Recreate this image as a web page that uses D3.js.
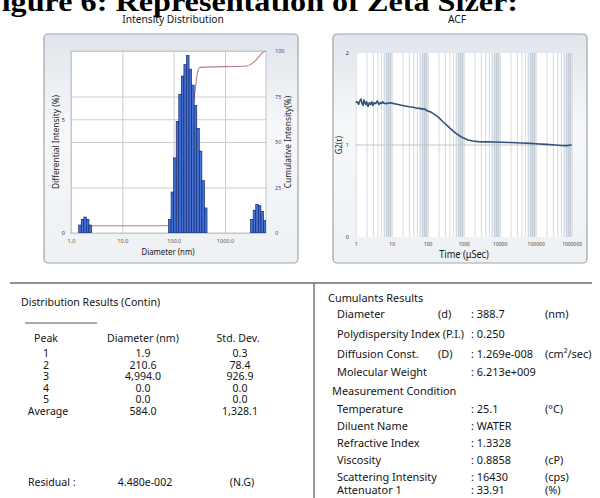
<!DOCTYPE html>
<html>
<head>
<meta charset="utf-8">
<script src="https://cdn.jsdelivr.net/npm/d3@7"></script>
<style>
body { margin: 0; background: #fff; }
svg { display: block; font-family: "Noto Sans", sans-serif; }
</style>
</head>
<body>
<script>
// ---- values ----
// intensity distribution bins: diameter (nm) and differential intensity (%)
var binDiam = [1.496, 1.679, 1.884, 2.113, 2.371,
    84.1, 94.4, 105.9, 118.9, 133.4, 149.6, 167.9, 188.4, 211.3, 237.1, 266.1, 298.5, 335.0, 375.8, 421.7,
    3350, 3758, 4217, 4732, 5309, 5957];
var binInt = [0.35, 0.6, 0.7, 0.6, 0.35,
    0.6, 1.8, 3.3, 4.9, 6.1, 6.9, 7.4, 7.8, 7.2, 6.5, 5.6, 4.6, 3.6, 2.3, 1.1,
    0.6, 1.0, 1.25, 1.2, 0.95, 0.55];
// cumulative intensity (%)
var cumDiam = [1.43, 1.7, 2.0, 2.3, 2.6, 73, 85, 100, 120, 150, 190, 230, 263, 282, 324, 2630, 3550, 4470, 5500, 6300];
var cumInt = [0, 1.0, 2.5, 3.6, 4.0, 4.0, 4.8, 8, 16, 32, 52, 66, 78.6, 86, 91, 91.8, 93.6, 96.5, 99.3, 100];
var diamTicks = [1, 10, 100, 1000];
var leftTicks = [0, 5];
var rightTicks = [0, 25, 50, 75, 100];

// ACF: time (uSec) and G2(t)
var acfTime = [1, 1.1, 1.2, 1.3, 1.4, 1.5, 1.6, 1.7, 1.8, 1.9, 2, 2.2, 2.4, 2.6, 2.8, 3, 3.3, 3.6, 4, 4.4, 4.8, 5.2, 5.6, 6, 7, 8, 9, 10,
    15, 20, 30, 40, 50, 60, 70, 80, 90, 100, 120, 150, 200, 270, 350, 450, 600, 800, 1000, 1300, 1800, 2500, 4000, 7000,
    10000, 20000, 40000, 70000, 100000, 200000, 350000, 500000, 700000, 1000000];
var acfG2 = [1.46, 1.47, 1.44, 1.48, 1.50, 1.45, 1.43, 1.49, 1.46, 1.44, 1.47, 1.42, 1.46, 1.44, 1.47, 1.43, 1.46, 1.45, 1.48, 1.44, 1.46, 1.45, 1.47, 1.455, 1.45, 1.455, 1.46, 1.455,
    1.44, 1.43, 1.415, 1.41, 1.40, 1.398, 1.39, 1.395, 1.38, 1.37, 1.36, 1.335, 1.30, 1.25, 1.21, 1.17, 1.13, 1.095, 1.075, 1.055, 1.043, 1.037, 1.034, 1.032,
    1.03, 1.027, 1.022, 1.018, 1.014, 1.007, 1.0, 0.994, 0.993, 1.0];
var timeTicks = [1, 10, 100, 1000, 10000, 100000, 1000000];
var g2Ticks = [0, 1, 2];

// tables
var peakNames = ["1", "2", "3", "4", "5", "Average"];
var peakDiam = ["1.9", "210.6", "4,994.0", "0.0", "0.0", "584.0"];
var peakStd = ["0.3", "78.4", "926.9", "0.0", "0.0", "1,328.1"];
var residual = ["Residual  :", "4.480e-002", "(N.G)"];

var cumLabels = ["Diameter", "Polydispersity Index (P.I.)", "Diffusion Const.", "Molecular Weight"];
var cumSymbols = ["(d)", "", "(D)", ""];
var cumValues = [": 388.7", ": 0.250", ": 1.269e-008", ": 6.213e+009"];
var cumUnits = ["(nm)", "", "(cm\u00b2/sec)", ""];
var condLabels = ["Temperature", "Diluent Name", "Refractive Index", "Viscosity", "Scattering Intensity", "Attenuator 1"];
var condValues = [": 25.1", ": WATER", ": 1.3328", ": 0.8858", ": 16430", ": 33.91"];
var condUnits = ["(\u00b0C)", "", "", "(cP)", "(cps)", "(%)"];

// ---- drawing ----
var width = 600, height = 498;
var svg = d3.select("body").append("svg")
    .attr("width", width)
    .attr("height", height);

var defs = svg.append("defs");
var grad = defs.append("linearGradient").attr("id", "panelGrad")
    .attr("x1", 0).attr("y1", 0).attr("x2", 0).attr("y2", 1);
grad.append("stop").attr("offset", "0%").attr("stop-color", "#dfe5eb");
grad.append("stop").attr("offset", "40%").attr("stop-color", "#f6f8fa");
grad.append("stop").attr("offset", "100%").attr("stop-color", "#eef1f4");

// squashed text, like the scanned report
function txt(g, x, y, s, size, anchor, sx) {
    return g.append("text")
        .attr("transform", "translate(" + x + "," + y + ") scale(" + (sx || 0.92) + ",1)")
        .attr("text-anchor", anchor || "start")
        .style("font-size", size + "px")
        .style("fill", "#151515")
        .text(s);
}

// figure caption, cut at the top/left
svg.append("text")
    .attr("transform", "translate(-18,11) scale(1.15,1)")
    .style("font-family", "'Liberation Serif', serif")
    .style("font-weight", "bold")
    .style("font-size", "28px")
    .text("Figure 6: Representation of Zeta Sizer:");

txt(svg, 173, 23, "Intensity Distribution", 11, "middle", 0.93);
txt(svg, 457, 23, "ACF", 11, "middle", 0.93);

// panels
[[44, 34], [333, 34]].forEach(function(p) {
    svg.append("rect")
        .attr("x", p[0]).attr("y", p[1])
        .attr("width", 254).attr("height", 229)
        .attr("rx", 4)
        .style("fill", "url(#panelGrad)")
        .style("stroke", "#9ea6ae")
        .style("stroke-width", 1.2);
});

// ===== Intensity distribution =====
var x1 = d3.scaleLog().domain([1, 6300]).range([71, 266]);
var yL = d3.scaleLinear().domain([0, 8]).range([233, 51]);
var yR = d3.scaleLinear().domain([0, 100]).range([233, 51]);

var g1 = svg.append("g");
g1.append("rect")
    .attr("x", 71).attr("y", 51)
    .attr("width", 195).attr("height", 182)
    .style("fill", "#fff");

// gridlines
g1.append("g")
    .attr("transform", "translate(0,233)")
    .call(d3.axisBottom(x1).tickValues(diamTicks).tickSize(-182).tickFormat(""))
    .call(function(g) { g.select(".domain").remove(); })
    .selectAll("line").style("stroke", "#c9cdd2");
g1.append("g")
    .attr("transform", "translate(266,0)")
    .call(d3.axisRight(yR).tickValues(rightTicks).tickSize(-195).tickFormat(""))
    .call(function(g) { g.select(".domain").remove(); })
    .selectAll("line").style("stroke", "#c9cdd2");
g1.append("g")
    .attr("transform", "translate(71,0)")
    .call(d3.axisLeft(yL).tickValues(leftTicks).tickSize(-195).tickFormat(""))
    .call(function(g) { g.select(".domain").remove(); })
    .selectAll("line").style("stroke", "#c9cdd2");
g1.append("rect")
    .attr("x", 71).attr("y", 51)
    .attr("width", 195).attr("height", 182)
    .style("fill", "none").style("stroke", "#c2c6cb");

defs.append("clipPath").attr("id", "clip1")
    .append("rect").attr("x", 71).attr("y", 51).attr("width", 195).attr("height", 182);

// cumulative line (behind the bars)
var cum = cumDiam.map(function(d, i) { return [d, cumInt[i]]; });
g1.append("path")
    .datum(cum)
    .attr("clip-path", "url(#clip1)")
    .attr("d", d3.line()
        .x(function(d) { return x1(d[0]); })
        .y(function(d) { return yR(d[1]); })
        .curve(d3.curveMonotoneX))
    .style("fill", "none")
    .style("stroke", "#b87d82")
    .style("stroke-width", 1.1);

// bars
var half = Math.pow(10, 0.025);
var bins = binDiam.map(function(d, i) { return {d: d, v: binInt[i]}; });
g1.append("g")
    .attr("clip-path", "url(#clip1)")
    .selectAll("rect")
    .data(bins)
    .enter().append("rect")
    .attr("x", function(d) { return x1(d.d / half); })
    .attr("width", function(d) { return x1(d.d * half) - x1(d.d / half); })
    .attr("y", function(d) { return yL(d.v); })
    .attr("height", function(d) { return yL(0) - yL(d.v); })
    .style("fill", "#4272d8")
    .style("stroke", "#14296b")
    .style("stroke-width", 0.7);

// tick labels
var ax1 = g1.append("g")
    .attr("transform", "translate(0,236)")
    .call(d3.axisBottom(x1).tickValues(diamTicks).tickSize(0)
        .tickFormat(function(d) { return d.toFixed(1); }));
ax1.select(".domain").remove();
ax1.selectAll("text").style("font-size", "5.5px").style("fill", "#555").style("font-family", "'Noto Sans', sans-serif");

var axL = g1.append("g")
    .attr("transform", "translate(68,0)")
    .call(d3.axisLeft(yL).tickValues(leftTicks).tickSize(0));
axL.select(".domain").remove();
axL.selectAll("text").style("font-size", "5.5px").style("fill", "#333").style("font-family", "'Noto Sans', sans-serif");

var axR = g1.append("g")
    .attr("transform", "translate(272,0)")
    .call(d3.axisRight(yR).tickValues(rightTicks).tickSize(0));
axR.select(".domain").remove();
axR.selectAll("text").style("font-size", "5.5px").style("fill", "#3a3f9a").style("font-family", "'Noto Sans', sans-serif");

txt(g1, 168, 255, "Diameter (nm)", 9, "middle", 0.87);
g1.append("text")
    .attr("transform", "translate(59,142) rotate(-90) scale(0.98,1)")
    .attr("text-anchor", "middle")
    .style("font-size", "8.5px").style("fill", "#222")
    .text("Differential Intensity (%)");
g1.append("text")
    .attr("transform", "translate(291,142) rotate(-90) scale(0.98,1)")
    .attr("text-anchor", "middle")
    .style("font-size", "8.5px").style("fill", "#222")
    .text("Cumulative Intensity(%)");

// ===== ACF =====
var x2 = d3.scaleLog().domain([1, 1000000]).range([355.7, 571.7]);
var y2 = d3.scaleLinear().domain([0, 2]).range([237, 53]);
var g2 = svg.append("g");

g2.append("rect")
    .attr("x", 355.7).attr("y", 53)
    .attr("width", 216).attr("height", 184)
    .style("fill", "#fff");

// minor + major vertical gridlines
var gridTimes = [];
timeTicks.forEach(function(t) {
    if (t < 1000000) for (var k = 1; k < 10; k++) gridTimes.push(t * k);
});
gridTimes.push(1000000);
g2.append("g")
    .attr("transform", "translate(0,237)")
    .call(d3.axisBottom(x2).tickValues(gridTimes).tickSize(-184).tickFormat(""))
    .call(function(g) { g.select(".domain").remove(); })
    .selectAll("line")
    .style("stroke", function(d, i) { return (i % 9 >= 5) ? "#c4cdd6" : "#d5dbe1"; })
    .style("stroke-width", function(d, i) { return (i % 9 >= 6) ? 1.8 : 1; });

g2.append("line")
    .attr("x1", 355.7).attr("x2", 571.7)
    .attr("y1", y2(1)).attr("y2", y2(1))
    .style("stroke", "#bfc4c9").style("stroke-width", 1);

var acf = acfTime.map(function(t, i) { return [t, acfG2[i]]; });
g2.append("path")
    .datum(acf)
    .attr("d", d3.line()
        .x(function(d) { return x2(d[0]); })
        .y(function(d) { return y2(d[1]); }))
    .style("fill", "none")
    .style("stroke", "#33527c")
    .style("stroke-width", 1.6)
    .style("stroke-linejoin", "round");

var ax2 = g2.append("g")
    .attr("transform", "translate(0,239)")
    .call(d3.axisBottom(x2).tickValues(timeTicks).tickSize(0)
        .tickFormat(d3.format("d")));
ax2.select(".domain").remove();
ax2.selectAll("text").style("font-size", "5px").style("fill", "#444").style("font-family", "'Noto Sans', sans-serif");

var ay2 = g2.append("g")
    .attr("transform", "translate(352,0)")
    .call(d3.axisLeft(y2).tickValues(g2Ticks).tickSize(0).tickFormat(d3.format("d")));
ay2.select(".domain").remove();
ay2.selectAll("text").style("font-size", "5.5px").style("fill", "#333").style("font-family", "'Noto Sans', sans-serif");

txt(g2, 464, 258, "Time (\u03bcSec)", 10, "middle", 0.92);
g2.append("text")
    .attr("transform", "translate(342,145) rotate(-90) scale(0.9,1)")
    .attr("text-anchor", "middle")
    .style("font-size", "8.5px").style("fill", "#222")
    .text("G2(\u03c4)");

// ===== report section =====
svg.append("line")
    .attr("x1", 10).attr("x2", 592).attr("y1", 283).attr("y2", 283)
    .style("stroke", "#6d6d6d").style("stroke-width", 1.6);
svg.append("line")
    .attr("x1", 314).attr("x2", 314).attr("y1", 283).attr("y2", 498)
    .style("stroke", "#6d6d6d").style("stroke-width", 1.4);

var t1 = svg.append("g");
txt(t1, 21, 306, "Distribution Results (Contin)", 11.5);
t1.append("line")
    .attr("x1", 25).attr("x2", 97).attr("y1", 323).attr("y2", 323)
    .style("stroke", "#555").style("stroke-width", 1);
txt(t1, 46, 341.5, "Peak", 11.5, "middle");
txt(t1, 143, 341.5, "Diameter (nm)", 11.5, "middle");
txt(t1, 238, 341.5, "Std. Dev.", 11.5, "middle");
var rowY = d3.scalePoint().domain(peakNames).range([357, 415]);
peakNames.forEach(function(p, i) {
    txt(t1, p == "Average" ? 48 : 46, rowY(p), p, 11.5, "middle");
    txt(t1, 143, rowY(p), peakDiam[i], 11.5, "middle");
    txt(t1, 240, rowY(p), peakStd[i], 11.5, "middle");
});
txt(t1, 28, 486, residual[0], 11.5);
txt(t1, 145, 486, residual[1], 11.5, "middle");
txt(t1, 242, 486, residual[2], 11.5, "middle");

var t2 = svg.append("g");
txt(t2, 328, 301.5, "Cumulants Results", 11.5, "start", 0.95);
var cumY = [317.5, 338, 358, 376];
cumLabels.forEach(function(l, i) {
    txt(t2, 337, cumY[i], l, 11.5, "start", 0.95);
    txt(t2, 438, cumY[i], cumSymbols[i], 11.5, "start", 0.95);
    txt(t2, 471, cumY[i], cumValues[i], 11.5, "start", 0.95);
    txt(t2, 545, cumY[i], cumUnits[i], 11.5, "start", 0.95);
});
txt(t2, 332, 395, "Measurement Condition", 11.5, "start", 0.95);
var condY = [413, 430, 447, 464, 481, 494];
condLabels.forEach(function(l, i) {
    txt(t2, 337, condY[i], l, 11.5, "start", 0.95);
    txt(t2, 471, condY[i], condValues[i], 11.5, "start", 0.95);
    txt(t2, 545, condY[i], condUnits[i], 11.5, "start", 0.95);
});
</script>
</body>
</html>
